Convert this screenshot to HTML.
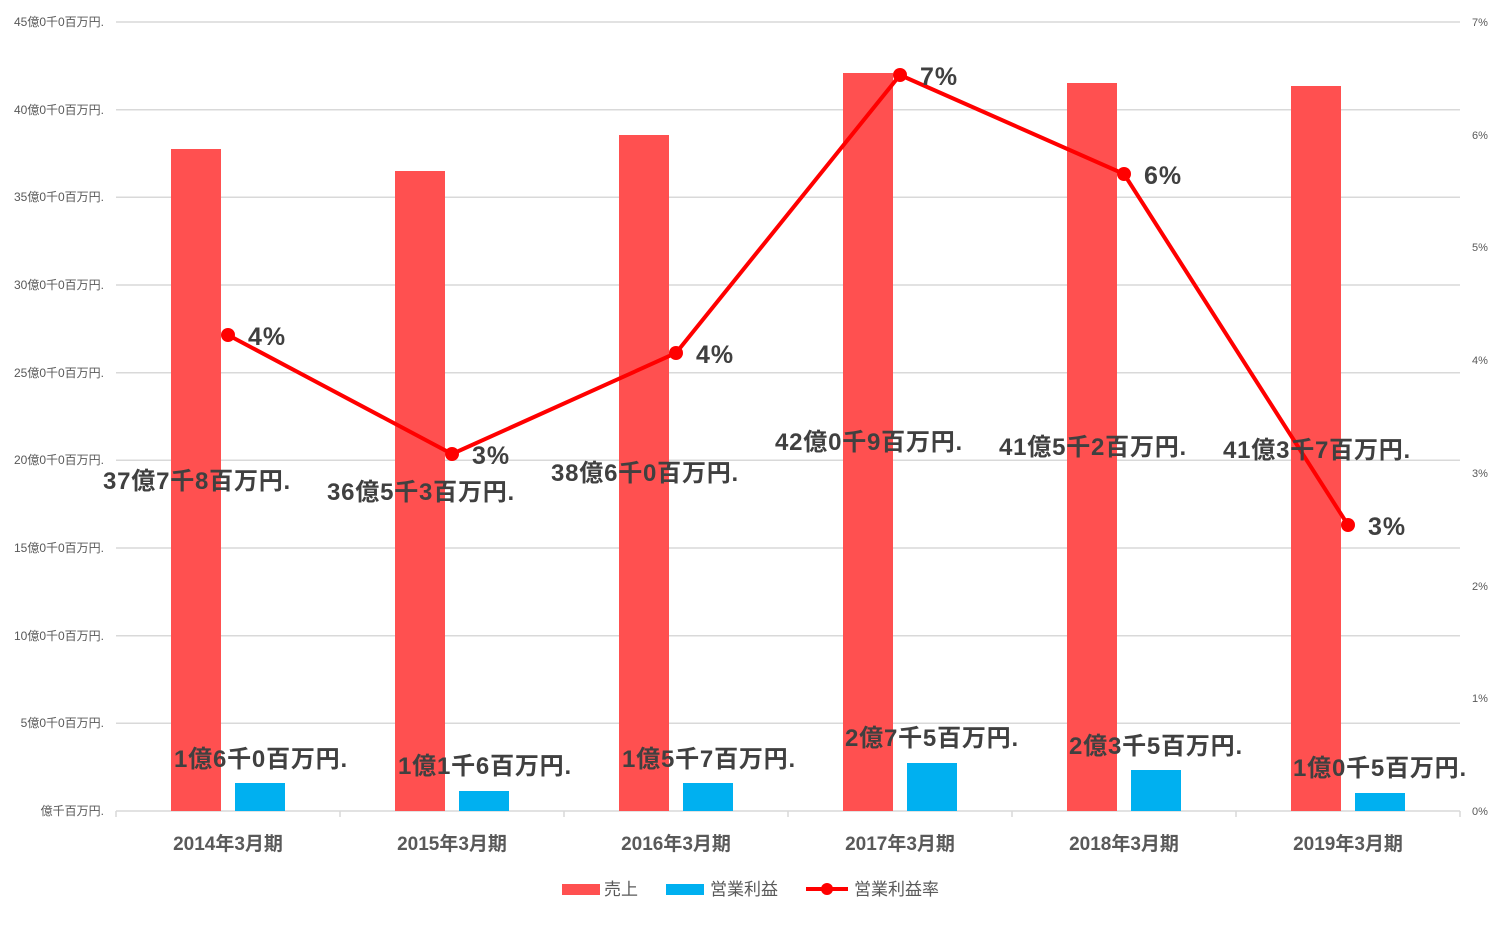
<!DOCTYPE html>
<html><head><meta charset="utf-8"><style>
body{margin:0;background:#fff}
text{font-family:"Liberation Sans","Noto Sans CJK JP",sans-serif}
</style></head><body>
<svg width="1500" height="921" viewBox="0 0 1500 921" xmlns="http://www.w3.org/2000/svg">
<g stroke="#d9d9d9" stroke-width="1.5">
<line x1="116" x2="1460" y1="22" y2="22"/><line x1="116" x2="1460" y1="109.7" y2="109.7"/>
<line x1="116" x2="1460" y1="197.3" y2="197.3"/><line x1="116" x2="1460" y1="285" y2="285"/>
<line x1="116" x2="1460" y1="372.7" y2="372.7"/><line x1="116" x2="1460" y1="460.3" y2="460.3"/>
<line x1="116" x2="1460" y1="548" y2="548"/><line x1="116" x2="1460" y1="635.7" y2="635.7"/>
<line x1="116" x2="1460" y1="723.3" y2="723.3"/><line x1="116" x2="1460" y1="811" y2="811"/>
<line x1="116" x2="116" y1="811" y2="817"/><line x1="340" x2="340" y1="811" y2="817"/>
<line x1="564" x2="564" y1="811" y2="817"/><line x1="788" x2="788" y1="811" y2="817"/>
<line x1="1012" x2="1012" y1="811" y2="817"/><line x1="1236" x2="1236" y1="811" y2="817"/>
<line x1="1460" x2="1460" y1="811" y2="817"/>
</g>
<g font-size="12" fill="#595959" text-anchor="end">
<text x="104" y="26">45億0千0百万円.</text><text x="104" y="114">40億0千0百万円.</text>
<text x="104" y="201">35億0千0百万円.</text><text x="104" y="289">30億0千0百万円.</text>
<text x="104" y="377">25億0千0百万円.</text><text x="104" y="464">20億0千0百万円.</text>
<text x="104" y="552">15億0千0百万円.</text><text x="104" y="640">10億0千0百万円.</text>
<text x="104" y="727">5億0千0百万円.</text><text x="104" y="815">億千百万円.</text>
</g>
<g font-size="11" fill="#595959">
<text x="1472" y="815">0%</text><text x="1472" y="702">1%</text><text x="1472" y="590">2%</text>
<text x="1472" y="477">3%</text><text x="1472" y="364">4%</text><text x="1472" y="251">5%</text>
<text x="1472" y="139">6%</text><text x="1472" y="26">7%</text>
</g>
<g fill="#ff5050">
<rect x="171" y="149" width="50" height="662"/><rect x="395" y="171" width="50" height="640"/>
<rect x="619" y="135" width="50" height="676"/><rect x="843" y="73" width="50" height="738"/>
<rect x="1067" y="83" width="50" height="728"/><rect x="1291" y="86" width="50" height="725"/>
</g>
<g fill="#00b0f0">
<rect x="235" y="783" width="50" height="28"/><rect x="459" y="791" width="50" height="20"/>
<rect x="683" y="783" width="50" height="28"/><rect x="907" y="763" width="50" height="48"/>
<rect x="1131" y="770" width="50" height="41"/><rect x="1355" y="793" width="50" height="18"/>
</g>
<polyline points="228,335 452,454 676,353 900,75 1124,174 1348,525" fill="none" stroke="#ff0000" stroke-width="4"/>
<g fill="#ff0000">
<circle cx="228" cy="335" r="7"/><circle cx="452" cy="454" r="7"/><circle cx="676" cy="353" r="7"/>
<circle cx="900" cy="75" r="7"/><circle cx="1124" cy="174" r="7"/><circle cx="1348" cy="525" r="7"/>
</g>
<g font-size="25" font-weight="bold" fill="#404040" letter-spacing="1">
<text x="248" y="345">4%</text><text x="472" y="464">3%</text><text x="696" y="363">4%</text>
<text x="920" y="85">7%</text><text x="1144" y="184">6%</text><text x="1368" y="535">3%</text>
</g>
<g font-size="24" font-weight="bold" fill="#404040" text-anchor="middle" letter-spacing="0.8">
<text x="197" y="489">37億7千8百万円.</text><text x="421" y="500">36億5千3百万円.</text>
<text x="645" y="481">38億6千0百万円.</text><text x="869" y="450">42億0千9百万円.</text>
<text x="1093" y="455">41億5千2百万円.</text><text x="1317" y="458">41億3千7百万円.</text>
<text x="261" y="767">1億6千0百万円.</text><text x="485" y="774">1億1千6百万円.</text>
<text x="709" y="767">1億5千7百万円.</text><text x="932" y="746">2億7千5百万円.</text>
<text x="1156" y="754">2億3千5百万円.</text><text x="1380" y="776">1億0千5百万円.</text>
</g>
<g font-size="19" font-weight="bold" fill="#595959" text-anchor="middle">
<text x="228" y="850">2014年3月期</text><text x="452" y="850">2015年3月期</text>
<text x="676" y="850">2016年3月期</text><text x="900" y="850">2017年3月期</text>
<text x="1124" y="850">2018年3月期</text><text x="1348" y="850">2019年3月期</text>
</g>
<rect x="562" y="884" width="38" height="11" fill="#ff5050"/>
<text x="604" y="895" font-size="17" fill="#595959">売上</text>
<rect x="666" y="884" width="38" height="11" fill="#00b0f0"/>
<text x="710" y="895" font-size="17" fill="#595959">営業利益</text>
<line x1="806" x2="848" y1="889" y2="889" stroke="#ff0000" stroke-width="4"/>
<circle cx="827" cy="889" r="6" fill="#ff0000"/>
<text x="854" y="895" font-size="17" fill="#595959">営業利益率</text>
</svg>
</body></html>
